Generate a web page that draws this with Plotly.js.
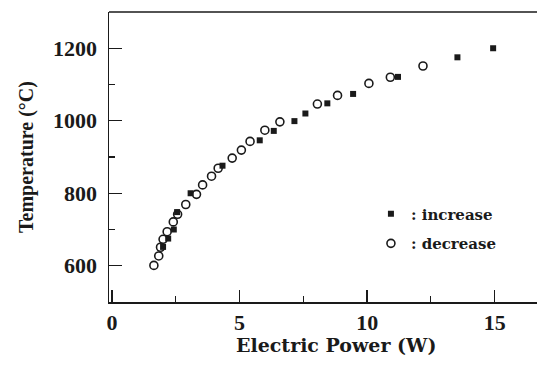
<!DOCTYPE html>
<html>
<head>
<meta charset="utf-8">
<script src="https://cdn.plot.ly/plotly-3.0.1.min.js"></script>
<style>html,body{margin:0;padding:0;background:#fff;}#chart{width:537px;height:365px;}</style>
</head>
<body>
<div id="chart"></div>
<script>
// Increase (filled squares)
var incPower = [2.0, 2.2, 2.42, 2.55, 3.08, 4.33, 5.79, 6.34, 7.15, 7.58, 8.44, 9.45, 11.21, 13.54, 14.94];
var incTemp  = [652, 675, 700, 748, 800, 876, 946, 972, 999, 1020, 1048, 1074, 1121, 1175, 1200];
// Decrease (open circles)
var decPower = [12.19, 10.91, 10.07, 8.84, 8.05, 6.58, 5.99, 5.41, 5.07, 4.71, 4.16, 3.90, 3.55, 3.31, 2.89, 2.57, 2.40, 2.16, 2.0, 1.90, 1.83, 1.64];
var decTemp  = [1151, 1120, 1103, 1070, 1046, 997, 974, 943, 919, 897, 869, 847, 823, 797, 769, 742, 721, 694, 673, 651, 627, 601];
var incName = ': increase';
var decName = ': decrease';
var xTitle = 'Electric Power (W)';
var yTitle = 'Temperature (°C)';

var serif = 'Liberation Serif, Times New Roman, serif';
var wide = 'DejaVu Serif, serif';
var ink = '#1a1a1a';

var traces = [
  {x: incPower, y: incTemp, name: incName, mode: 'markers', type: 'scatter', legendgroup: 'a',
   marker: {symbol: 'square', size: 6, color: ink}},
  {x: decPower, y: decTemp, name: decName, mode: 'markers', type: 'scatter', legendgroup: 'b',
   marker: {symbol: 'circle-open', size: 8, color: ink, line: {width: 1.6, color: ink}}}
];

var axisCommon = {
  showgrid: false, zeroline: false, showline: true, linecolor: ink, linewidth: 1.5,
  ticks: 'inside', tickcolor: ink, tickwidth: 1.3,
  tickfont: {family: serif, size: 22, color: ink, weight: 'bold'}
};

var layout = {
  width: 537, height: 365,
  margin: {l: 109, r: 0, t: 12, b: 63},
  paper_bgcolor: '#fff', plot_bgcolor: '#fff',
  showlegend: true,
  legend: {x: 0.612, y: 0.36, xanchor: 'left', yanchor: 'top', bgcolor: 'rgba(0,0,0,0)',
           traceorder: 'grouped', tracegroupgap: 7,
           font: {family: wide, size: 15, color: ink, weight: 'bold'}},
  xaxis: Object.assign({}, axisCommon, {
    range: [-0.12, 16.66], tickvals: [0, 5, 10, 15], ticklen: 12,
    minor: {tickvals: [2.5, 7.5, 12.5], ticklen: 6, ticks: 'inside', tickcolor: ink, tickwidth: 1.2}
  }),
  yaxis: Object.assign({}, axisCommon, {
    range: [500, 1300], tickvals: [600, 800, 1000, 1200], ticklen: 13,
    minor: {tickvals: [700, 900, 1100], ticklen: 6, ticks: 'inside', tickcolor: ink, tickwidth: 1.2},
    ticklabelstandoff: 6,
    title: {text: yTitle, font: {family: serif, size: 20, color: ink, weight: 'bold'}, standoff: 14}
  }),
  annotations: [{text: xTitle, xref: 'paper', yref: 'paper', x: 0.53, y: -0.148,
                 xanchor: 'center', yanchor: 'middle', showarrow: false,
                 font: {family: wide, size: 19, color: ink, weight: 'bold'}}],
  shapes: [{type: 'line', xref: 'paper', yref: 'paper', x0: 0, x1: 1, y0: 1, y1: 1,
            line: {color: ink, width: 1.5}}]
};

Plotly.newPlot('chart', traces, layout, {displayModeBar: false, staticPlot: true});
</script>
</body>
</html>
